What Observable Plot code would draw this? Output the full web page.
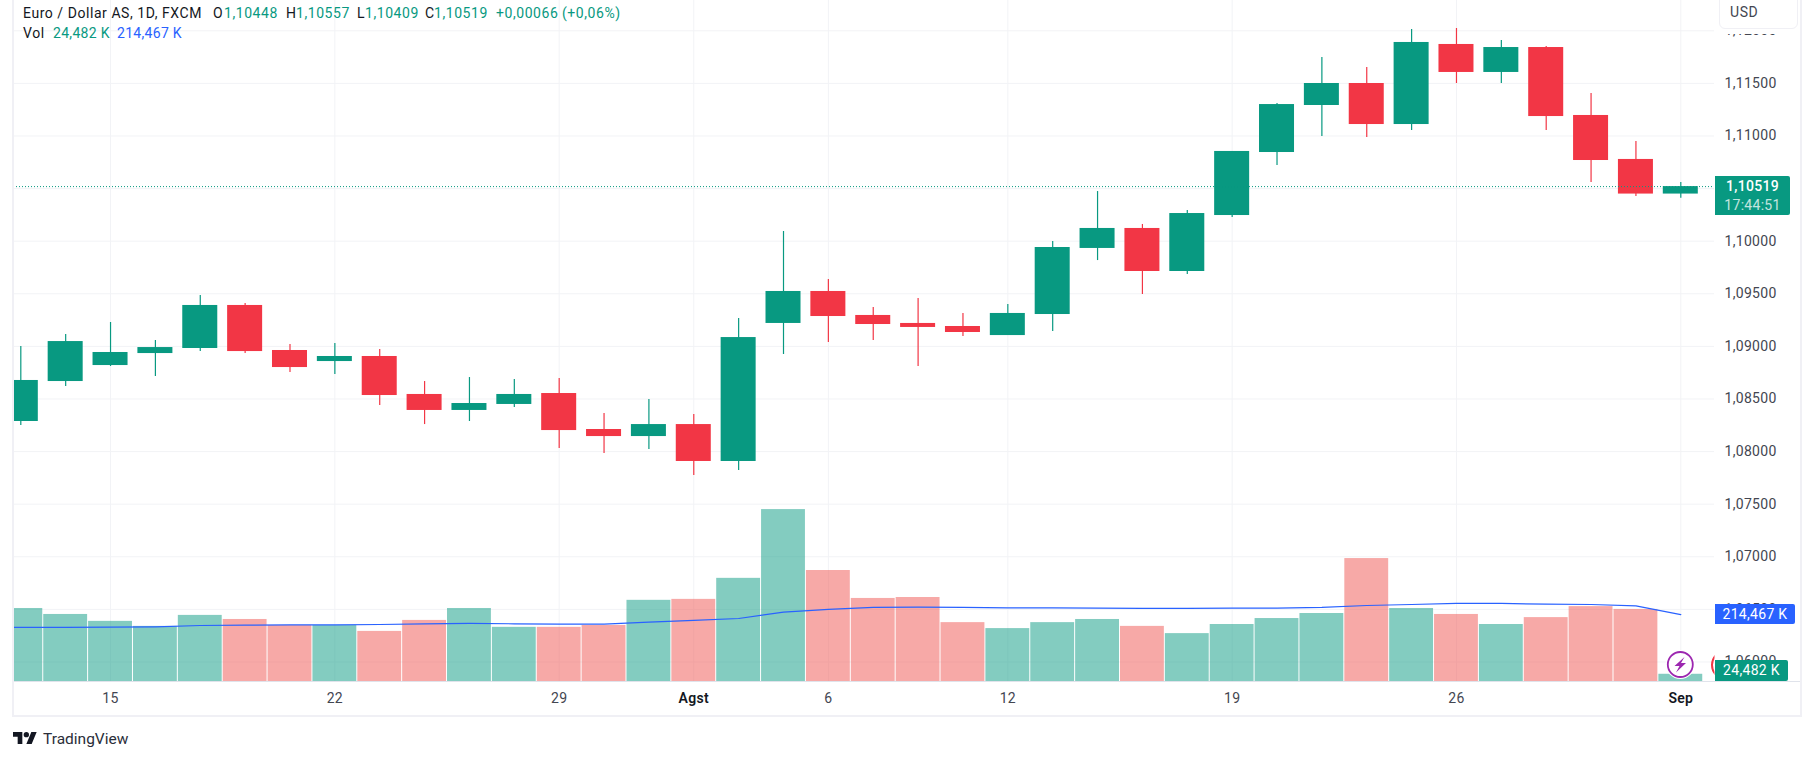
<!DOCTYPE html>
<html><head><meta charset="utf-8">
<script src="https://cdn.jsdelivr.net/npm/d3@7"></script>
<script src="https://cdn.jsdelivr.net/npm/@observablehq/plot@0.6"></script>
<style>
html,body{margin:0;padding:0;background:#fff;overflow:hidden}
#wrap{position:relative;width:1814px;height:760px;font-family:Roboto,sans-serif;font-size:14px;color:#131722}
#wrap svg{display:block}
.a{position:absolute;white-space:nowrap;line-height:18px;letter-spacing:.55px}
.g{color:#089981}.b{color:#2962FF}
.tag{position:absolute;left:1715px;color:#fff;text-align:center;border-radius:0 2px 2px 0;letter-spacing:.3px}
</style></head><body><div id="wrap"></div>
<script>
const dates = ["07-10","07-11","07-12","07-15","07-16","07-17","07-18","07-19","07-22","07-23","07-24","07-25","07-26","07-29","07-30","07-31","08-01","08-02","08-05","08-06","08-07","08-08","08-09","08-12","08-13","08-14","08-15","08-16","08-19","08-20","08-21","08-22","08-23","08-26","08-27","08-28","08-29","08-30","09-02"];
const candleDates = dates.slice(1);
const opens = [1.08286,1.08666,1.08818,1.08932,1.08980,1.09389,1.08961,1.08856,1.08904,1.08543,1.08391,1.08448,1.08552,1.08210,1.08143,1.08257,1.07906,1.09218,1.09522,1.09294,1.09218,1.09189,1.09103,1.09303,1.09931,1.10121,1.09712,1.10244,1.10843,1.11290,1.11499,1.11109,1.11870,1.11604,1.11841,1.11195,1.10777,1.10448];
const highs = [1.08999,1.09113,1.09227,1.09056,1.09484,1.09408,1.09018,1.09027,1.08970,1.08666,1.08704,1.08685,1.08695,1.08362,1.08495,1.08352,1.09265,1.10092,1.09636,1.09370,1.09455,1.09313,1.09398,1.09997,1.10472,1.10159,1.10292,1.10853,1.11309,1.11746,1.11651,1.12012,1.12022,1.11908,1.11851,1.11404,1.10948,1.10557];
const lows = [1.08248,1.08619,1.08809,1.08714,1.08951,1.08932,1.08752,1.08733,1.08438,1.08257,1.08286,1.08419,1.08029,1.07982,1.08020,1.07773,1.07820,1.08923,1.09037,1.09056,1.08809,1.09094,1.09103,1.09141,1.09816,1.09493,1.09683,1.10225,1.10720,1.10995,1.10986,1.11052,1.11499,1.11499,1.11052,1.10557,1.10425,1.10409];
const closes = [1.08676,1.09046,1.08942,1.08989,1.09389,1.08951,1.08799,1.08904,1.08533,1.08391,1.08457,1.08543,1.08200,1.08143,1.08257,1.07906,1.09084,1.09522,1.09284,1.09208,1.09180,1.09132,1.09313,1.09940,1.10121,1.09712,1.10263,1.10853,1.11299,1.11499,1.11109,1.11889,1.11604,1.11841,1.11185,1.10767,1.10448,1.10519];
const volumes = [234,215,193,177,212,199,180,180,161,196,234,174,174,180,260,263,330,549,355,266,269,189,170,189,199,177,154,183,202,218,393,234,215,183,205,240,231,24.482];
const volumeMA = [173.5,173.6,174.1,174.6,175.7,179.9,181,182.1,182.1,183.1,185.3,186.3,185.3,184.2,184.2,190.5,195.9,202.2,222.4,230.9,237.3,238.3,237.3,236.2,236.2,235.1,234.1,234.1,235.1,235.1,237.3,243.6,246.8,250,250,247.9,246.8,242.6,214.467];
const priceTicks = [1.06,1.065,1.07,1.075,1.08,1.085,1.09,1.095,1.10,1.105,1.11,1.115,1.12];
const dayTicks = {"07-15":"15","07-22":"22","07-29":"29","08-06":"6","08-12":"12","08-19":"19","08-26":"26"};
const monthTicks = {"08-01":"Agst","09-02":"Sep"};
const lastPrice = 1.10519;

const up = "#089981", down = "#F23645", gridColor = "#f2f3f6";
const rows = candleDates.map((date,i)=>({date,open:opens[i],high:highs[i],low:lows[i],close:closes[i],vol:volumes[i],
  color:closes[i]>=opens[i]?up:down, volColor:closes[i]>=opens[i]?up:"#ef5350"}));
const maRows = dates.map((date,i)=>({date,ma:volumeMA[i]}));
// volume pane shares the frame: map thousands of contracts on to the price scale
const volToPrice = d3.scaleLinear().domain([0,1]).range([1.0581,1.0581+0.00002985]);
const fmt = d=>d.toFixed(5).replace(".",",");

const chart = Plot.plot({
  width:1814,height:760,marginLeft:13,marginRight:100,marginTop:0,marginBottom:78,
  style:{fontFamily:"Roboto,sans-serif",fontSize:"14px",background:"transparent",overflow:"visible",letterSpacing:"0.3px"},
  color:{type:"identity"},
  x:{type:"band",domain:dates,range:[-46.99,1702.73],padding:0,axis:null},
  y:{domain:[1.05805,1.12288],axis:null},
  marks:[
    Plot.ruleY(priceTicks,{stroke:gridColor,strokeWidth:1}),
    Plot.ruleX([...Object.keys(dayTicks),...Object.keys(monthTicks)],{stroke:gridColor,strokeWidth:1}),
    Plot.barY(rows,{x:"date",y1:()=>volToPrice(0),y2:d=>volToPrice(d.vol),fill:"volColor",fillOpacity:0.5,insetLeft:0.5,insetRight:0.5,clip:true}),
    Plot.line(maRows,{x:"date",y:d=>volToPrice(d.ma),stroke:"#2962FF",strokeWidth:1.2,clip:true}),
    Plot.ruleX(rows,{x:"date",y1:"low",y2:"high",stroke:"color",strokeWidth:1.2,clip:true}),
    Plot.barY(rows,{x:"date",y1:"open",y2:"close",fill:"color",insetLeft:4.93,insetRight:4.93,clip:true}),
    Plot.ruleY([lastPrice],{stroke:up,strokeWidth:1,strokeDasharray:"1 2"}),
    Plot.axisY(priceTicks,{anchor:"right",tickSize:0,tickPadding:10,tickFormat:fmt,fill:"#434651",textAnchor:"start",label:null,fontSize:14}),
    Plot.axisX(Object.keys(dayTicks),{anchor:"bottom",tickSize:0,tickPadding:11,tickFormat:d=>dayTicks[d],fill:"#434651",label:null,fontSize:14}),
    Plot.axisX(Object.keys(monthTicks),{anchor:"bottom",tickSize:0,tickPadding:11,tickFormat:d=>monthTicks[d],fill:"#131722",fontWeight:600,label:null,fontSize:14})
  ]
});
const wrap = document.getElementById("wrap");
wrap.appendChild(chart);

const overlay = document.createElement("div");
overlay.innerHTML = `
<div style="position:absolute;left:12px;top:0;width:2px;height:717px;background:#f0f0f5"></div>
<div style="position:absolute;left:1800px;top:0;width:2px;height:717px;background:#f0f0f5"></div>
<div style="position:absolute;left:12px;top:715px;width:1790px;height:2px;background:#f0f0f5"></div>
<div style="position:absolute;left:14px;top:681px;width:1786px;height:1px;background:#e0e3eb"></div>
<svg style="position:absolute;left:0;top:0;overflow:visible" width="1814" height="760">
  <defs><clipPath id="pane"><rect x="14" y="0" width="1700.5" height="681"/></clipPath></defs>
  <circle clip-path="url(#pane)" cx="1726" cy="665" r="14" fill="none" stroke="#F23645" stroke-width="2"/>
  <circle cx="1680.3" cy="664.5" r="14.5" fill="#fff"/>
  <circle cx="1680.3" cy="664.5" r="12.5" fill="#fff" stroke="#9C27B0" stroke-width="1.8"/>
  <path d="M1684.5 657 L1674.5 666 L1679.5 666 L1676 672.5 L1686 663 L1681 663 Z" fill="#9C27B0"/>
  <g transform="translate(13 729.3) scale(.667)" fill="#131722"><path d="M14 22H7V11H0V4h14v18zM28 22h-8l7.5-18h8L28 22z"/><circle cx="20" cy="8" r="4"/></g>
</svg>
<div class="a" style="left:23px;top:4px">Euro / Dollar AS, 1D, FXCM</div>
<div class="a" style="left:213px;top:4px">O</div><div class="a g" style="left:224px;top:4px">1,10448</div>
<div class="a" style="left:286px;top:4px">H</div><div class="a g" style="left:296px;top:4px">1,10557</div>
<div class="a" style="left:357px;top:4px">L</div><div class="a g" style="left:365px;top:4px">1,10409</div>
<div class="a" style="left:425px;top:4px">C</div><div class="a g" style="left:434px;top:4px">1,10519</div>
<div class="a g" style="left:496px;top:4px">+0,00066</div><div class="a g" style="left:562px;top:4px">(+0,06%)</div>
<div class="a" style="left:23px;top:24px">Vol</div><div class="a g" style="left:53px;top:24px;letter-spacing:.3px">24,482 K</div><div class="a b" style="left:117px;top:24px;letter-spacing:.3px">214,467 K</div>
<div style="position:absolute;left:1715px;top:0;width:85px;height:34px;background:#fff"></div>
<div style="position:absolute;left:1719px;top:-10px;width:77px;height:37px;border:1.5px solid #f0f0f5;border-radius:6px;background:#fff"></div>
<div class="a" style="left:1730px;top:3px;color:#434651">USD</div>
<div class="tag" style="top:176px;width:75px;height:39px;background:#089981;font-weight:500"><div style="line-height:19px;margin-top:1px">1,10519</div><div style="line-height:18px;opacity:.75;font-weight:400">17:44:51</div></div>
<div class="tag" style="top:604px;width:80px;height:20px;line-height:20px;background:#2962FF">214,467 K</div>
<div class="tag" style="top:660px;width:73px;height:21px;line-height:21px;background:#089981">24,482 K</div>
<div class="a" style="left:43px;top:730px;font-size:15.5px;color:#2a2e39;letter-spacing:0">TradingView</div>`;
wrap.appendChild(overlay);
</script></body></html>
